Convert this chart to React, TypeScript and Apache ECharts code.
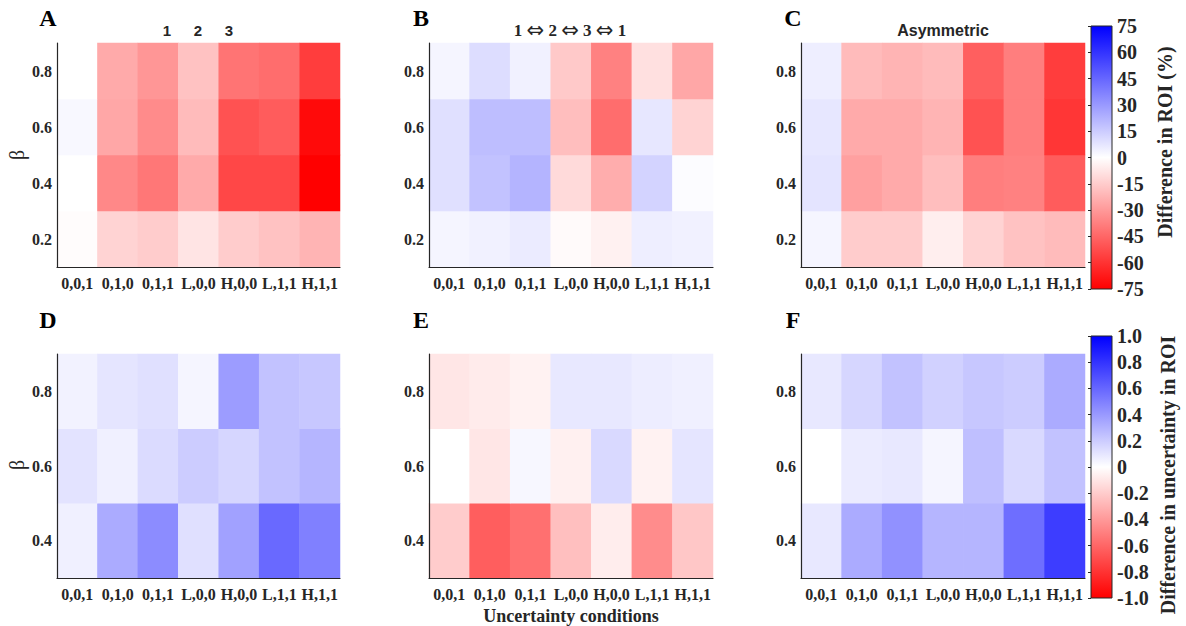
import React, { useEffect, useRef } from "react";
import * as echarts from "echarts";

const conditions = ["0,0,1", "0,1,0", "0,1,1", "L,0,0", "H,0,0", "L,1,1", "H,1,1"];
const betaTop = ["0.2", "0.4", "0.6", "0.8"];
const betaBottom = ["0.4", "0.6", "0.8"];

// Difference in ROI (%), rows from beta = 0.2 upward
const roiA = [
  [-1, -13, -15, -8, -15, -18, -22],
  [0, -35, -40, -25, -54, -54, -75],
  [2, -26, -34, -20, -51, -48, -72],
  [0, -25, -31, -18, -41, -43, -57],
];
const roiB = [
  [3, 4, 6, -1.5, -4, 5, 4],
  [9, 18, 22, -11, -24, 13, 1],
  [9, 19, 19, -19, -43, 7, -13],
  [3, 10, 4, -16, -37, -9, -26],
];
const roiC = [
  [3, -15, -15, -5, -13, -18, -20],
  [8, -28, -25, -19, -38, -37, -48],
  [7, -25, -25, -22, -51, -38, -59],
  [5, -20, -22, -20, -47, -38, -57],
];

// Difference in uncertainty in ROI, rows from beta = 0.4 upward
const uncD = [
  [0.06, 0.33, 0.45, 0.12, 0.37, 0.59, 0.5],
  [0.11, 0.06, 0.14, 0.2, 0.16, 0.24, 0.29],
  [0.05, 0.1, 0.12, 0.04, 0.39, 0.24, 0.22],
];
const uncE = [
  [-0.2, -0.63, -0.56, -0.25, -0.07, -0.45, -0.22],
  [0, -0.1, 0.03, -0.06, 0.15, -0.05, 0.1],
  [-0.1, -0.08, -0.05, 0.09, 0.09, 0.07, 0.06],
];
const uncF = [
  [0.09, 0.33, 0.43, 0.29, 0.29, 0.57, 0.76],
  [0, 0.08, 0.09, 0.04, 0.25, 0.15, 0.24],
  [0.09, 0.16, 0.24, 0.18, 0.22, 0.2, 0.33],
];

const roiTicks = { min: -75, max: 75, interval: 15 };
const uncTicks = { min: -1, max: 1, interval: 0.2 };

const serif = '"Liberation Serif", "Times New Roman", serif';
const sans = '"Liberation Sans", Arial, sans-serif';
const axisColor = "#262626";
const cmap = ["#ff0000", "#ffffff", "#0000ff"];

export default function App() {
  const ref = useRef<HTMLDivElement>(null);

  useEffect(() => {
    if (!ref.current) return;
    const chart = echarts.init(ref.current, undefined, { renderer: "svg" });

    const panelX = [57, 429, 801];
    const panelW = [283, 284, 284];
    const panels = [
      { data: roiA, rows: betaTop, top: 43 },
      { data: roiB, rows: betaTop, top: 43 },
      { data: roiC, rows: betaTop, top: 43 },
      { data: uncD, rows: betaBottom, top: 354 },
      { data: uncE, rows: betaBottom, top: 354 },
      { data: uncF, rows: betaBottom, top: 354 },
    ];

    const grids: any[] = panels.map((p, i) => ({
      left: panelX[i % 3],
      width: panelW[i % 3],
      top: p.top,
      height: 224,
      containLabel: false,
    }));
    const gradient = () =>
      new echarts.graphic.LinearGradient(0, 0, 0, 1, [
        { offset: 0, color: cmap[2] },
        { offset: 0.5, color: cmap[1] },
        { offset: 1, color: cmap[0] },
      ]);
    grids.push({
      left: 1091, width: 21, top: 26, height: 263, show: true,
      backgroundColor: gradient(), borderColor: axisColor, borderWidth: 1,
    });
    grids.push({
      left: 1091, width: 21, top: 336, height: 262, show: true,
      backgroundColor: gradient(), borderColor: axisColor, borderWidth: 1,
    });

    const labelStyle = {
      fontFamily: serif,
      fontWeight: "bold" as const,
      fontSize: 16,
      color: axisColor,
    };

    const xAxes: any[] = panels.map((_, i) => ({
      type: "category",
      gridIndex: i,
      data: conditions,
      z: 10,
      axisLine: { show: true, lineStyle: { color: axisColor, width: 1.2 } },
      axisTick: { inside: true, alignWithLabel: true, length: 3, lineStyle: { color: axisColor } },
      axisLabel: { ...labelStyle, margin: 8, interval: 0 },
      splitLine: { show: false },
      ...(i === 4
        ? {
            name: "Uncertainty conditions",
            nameLocation: "middle",
            nameGap: 29,
            nameTextStyle: { fontFamily: serif, fontWeight: "bold", fontSize: 18, color: axisColor },
          }
        : {}),
    }));
    xAxes.push({ type: "value", gridIndex: 6, show: false, min: 0, max: 1 });
    xAxes.push({ type: "value", gridIndex: 7, show: false, min: 0, max: 1 });

    const yAxes: any[] = panels.map((p, i) => ({
      type: "category",
      gridIndex: i,
      data: p.rows,
      z: 10,
      axisLine: { show: true, lineStyle: { color: axisColor, width: 1.2 } },
      axisTick: { inside: true, alignWithLabel: true, length: 3, lineStyle: { color: axisColor } },
      axisLabel: { ...labelStyle, margin: 5 },
      splitLine: { show: false },
    }));
    const cbAxis = (gridIndex: number, t: { min: number; max: number; interval: number }, fmt: (v: number) => string) => ({
      type: "value",
      gridIndex,
      position: "right",
      min: t.min,
      max: t.max,
      interval: t.interval,
      z: 10,
      axisLine: { show: false },
      axisTick: { show: true, inside: true, length: 3, lineStyle: { color: axisColor } },
      axisLabel: { fontFamily: serif, fontWeight: "bold", fontSize: 20, color: axisColor, margin: 5, formatter: fmt },
      splitLine: { show: false },
    });
    yAxes.push(cbAxis(6, roiTicks, (v) => String(Math.round(v))));
    yAxes.push(
      cbAxis(7, uncTicks, (v) => (Math.abs(v) < 1e-9 ? "0" : (Math.round(v * 10) / 10).toFixed(1)))
    );

    const series = panels.map((p, i) => ({
      type: "heatmap",
      xAxisIndex: i,
      yAxisIndex: i,
      data: p.data.flatMap((row, yi) => row.map((v, xi) => [xi, yi, v])),
      itemStyle: { borderWidth: 0 },
      emphasis: { disabled: true },
      progressive: 0,
    }));

    const letter = (t: string, x: number, y: number) => ({
      type: "text",
      x,
      y,
      style: {
        text: t,
        font: `bold 24px ${serif}`,
        fill: "#000",
        textAlign: "center",
        textVerticalAlign: "middle",
      },
    });
    const txt = (t: string, x: number, y: number, font: string, rotation = 0, rich?: any) => ({
      type: "text",
      x,
      y,
      rotation,
      style: {
        text: t,
        font,
        fill: axisColor,
        textAlign: "center",
        textVerticalAlign: "middle",
        ...(rich ? { rich } : {}),
      },
    });

    chart.setOption({
      animation: false,
      backgroundColor: "#ffffff",
      grid: grids,
      xAxis: xAxes,
      yAxis: yAxes,
      visualMap: [
        { type: "continuous", show: false, min: roiTicks.min, max: roiTicks.max, seriesIndex: [0, 1, 2], inRange: { color: cmap } },
        { type: "continuous", show: false, min: uncTicks.min, max: uncTicks.max, seriesIndex: [3, 4, 5], inRange: { color: cmap } },
      ],
      series,
      graphic: [
        letter("A", 48, 18),
        letter("B", 421, 18),
        letter("C", 793, 18),
        letter("D", 48, 320),
        letter("E", 421, 320),
        letter("F", 793, 320),
        txt("1", 167, 30, `bold 15px ${sans}`),
        txt("2", 198, 30, `bold 15px ${sans}`),
        txt("3", 229, 30, `bold 15px ${sans}`),
        txt("1 {a|\u21d4} 2 {a|\u21d4} 3 {a|\u21d4} 1", 570, 30, `bold 17px ${serif}`, 0, {
          a: { fontFamily: '"DejaVu Sans", sans-serif', fontSize: 21, fill: axisColor, color: axisColor },
        }),
        txt("Asymmetric", 943, 30, `bold 16px ${sans}`),
        txt("\u03b2", 17, 155, `20px ${serif}`, Math.PI / 2),
        txt("\u03b2", 17, 465, `20px ${serif}`, Math.PI / 2),
        txt("Difference in ROI (%)", 1165, 142, `bold 20px ${serif}`, Math.PI / 2),
        txt("Difference in uncertainty in ROI", 1168, 475, `bold 20px ${serif}`, Math.PI / 2),
      ],
    });

    return () => chart.dispose();
  }, []);

  return (
    <div
      ref={ref}
      style={{ position: "absolute", left: 0, top: 0, width: 1186, height: 626 }}
    />
  );
}
